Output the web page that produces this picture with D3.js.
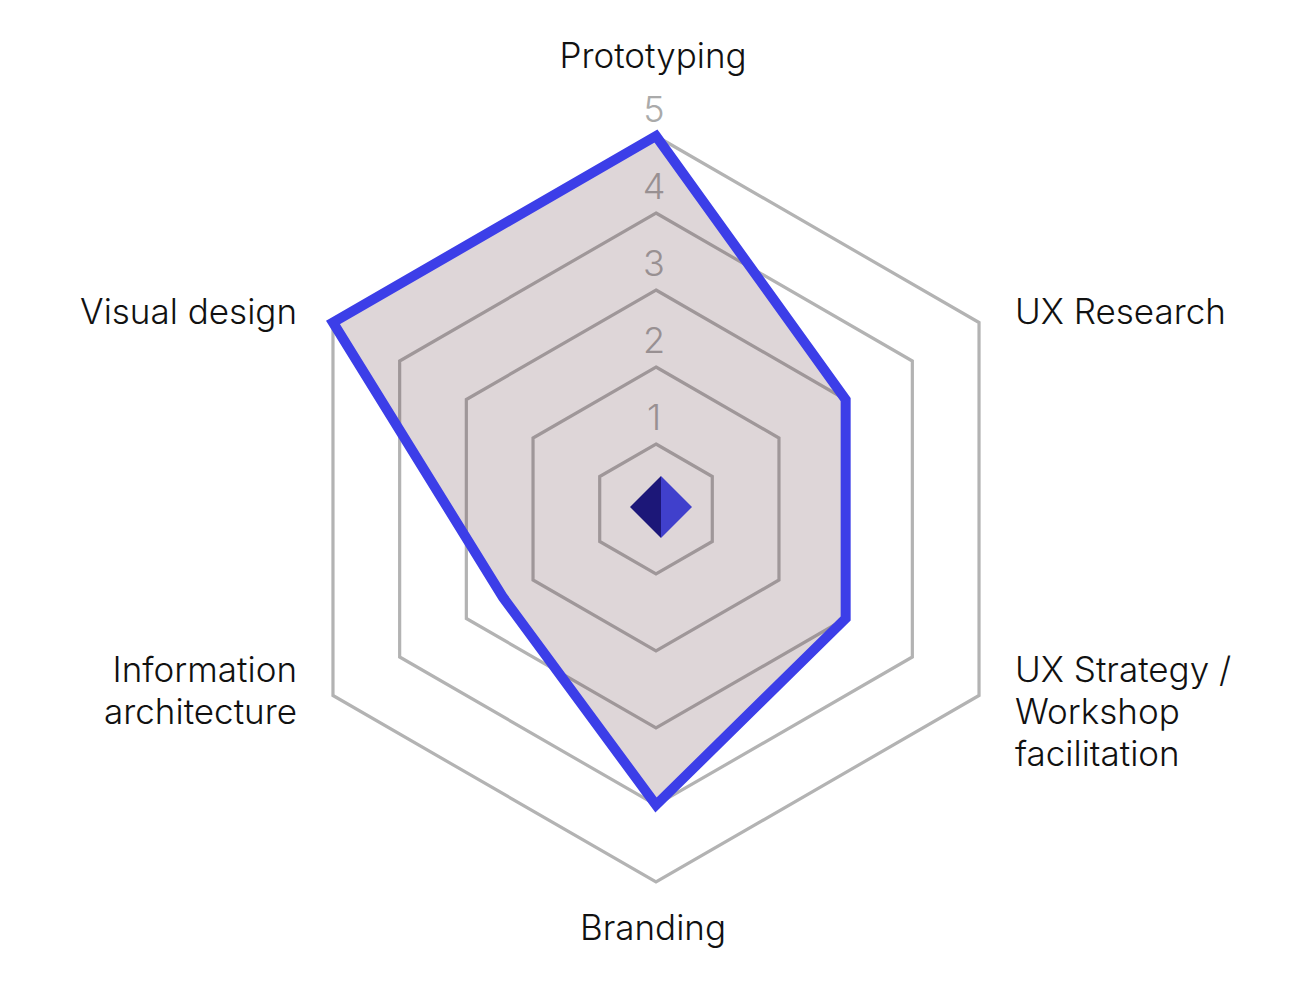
<!DOCTYPE html>
<html>
<head>
<meta charset="utf-8">
<script src="https://cdn.jsdelivr.net/npm/d3@7"></script>
<style>
  html, body { margin: 0; padding: 0; background: #fff; }
  text { font-family: Inter, "Noto Sans", sans-serif; }
</style>
</head>
<body>
<div id="radar"></div>
<script>
var width = 1289,
  height = 981;

// axes, clockwise from the top
var skills = ["Prototyping", "UX Research", "UX Strategy / Workshop facilitation",
  "Branding", "Information architecture", "Visual design"];
var labelLines = [["Prototyping"], ["UX Research"], ["UX Strategy /", "Workshop", "facilitation"],
  ["Branding"], ["Information", "architecture"], ["Visual design"]];
var scores = [5, 3, 3, 4, 2.45, 5];
var levels = [1, 2, 3, 4, 5];

var cx = 656,
  cy = 509;

var svg = d3.select("#radar").append("svg")
  .attr("width", width)
  .attr("height", height);

var g = svg.append("g").attr("transform", "translate(" + cx + "," + cy + ")");

// radius per level (ring 1 is not at the centre)
var r = d3.scaleLinear().domain([1, 5]).range([65, 373]);
var angle = d3.scaleLinear().domain([0, skills.length]).range([0, 2 * Math.PI]);

var ring = d3.lineRadial()
  .angle(function(d, i) { return angle(i); })
  .radius(function(d) { return r(d); })
  .curve(d3.curveLinearClosed);

// grid hexagons
g.selectAll(".ring")
  .data(levels)
  .enter().append("path")
  .attr("class", "ring")
  .attr("d", function(l) { return ring(skills.map(function() { return l; })); })
  .attr("fill", "none")
  .attr("stroke", "#b3b3b3")
  .attr("stroke-width", 3.2);

// level numbers
g.selectAll(".lvl")
  .data(levels)
  .enter().append("text")
  .attr("class", "lvl")
  .attr("x", -2)
  .attr("y", function(l) { return -r(l) - 27; })
  .attr("text-anchor", "middle")
  .attr("dominant-baseline", "central")
  .attr("font-size", 36)
  .attr("font-weight", 300)
  .attr("fill", "#aaaaaa")
  .text(function(l) { return l; });

// score polygon
g.append("path")
  .attr("d", ring(scores))
  .attr("fill", "rgb(70,27,38)")
  .attr("fill-opacity", 0.18)
  .attr("stroke", "#3c3ee8")
  .attr("stroke-width", 10)
  .attr("stroke-linejoin", "miter");

// little diamond logo in the middle
var dm = g.append("g").attr("transform", "translate(5,-2)");
dm.append("path").attr("d", "M0,-31L-31,0L0,31Z").attr("fill", "#1c1778");
dm.append("path").attr("d", "M0,-31L31,0L0,31Z").attr("fill", "#4040cc");

// axis labels
var lineH = 42;
labelLines.forEach(function(lines, i) {
  var a = angle(i);
  var vx = Math.sin(a) * r(5),
    vy = -Math.cos(a) * r(5);
  var anchor, x, y0;
  if (Math.abs(vx) < 1) {
    anchor = "middle";
    x = -3;
    y0 = vy < 0 ? vy - 68 : vy + 58;
  } else {
    anchor = vx > 0 ? "start" : "end";
    x = vx > 0 ? vx + 36 : vx - 36;
    y0 = vy < 0 ? vy + 1 : vy - 14;
  }
  var t = g.append("text")
    .attr("text-anchor", anchor)
    .attr("font-size", 35)
    .attr("font-weight", 300)
    .attr("fill", "#111");
  lines.forEach(function(s, k) {
    t.append("tspan")
      .attr("x", x)
      .attr("y", y0 + k * lineH)
      .text(s);
  });
});
</script>
</body>
</html>
